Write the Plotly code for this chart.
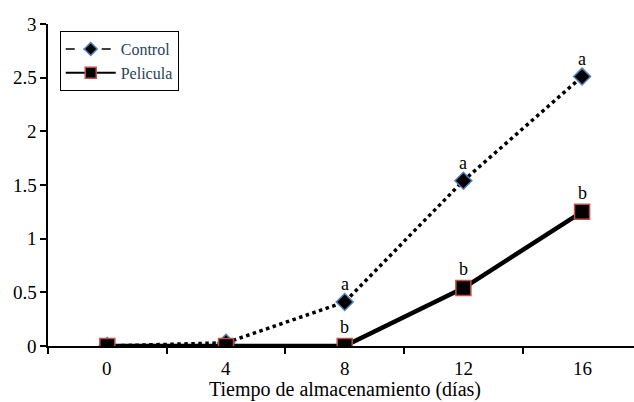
import plotly.graph_objects as go

days = [0, 4, 8, 12, 16]
day_labels = ["0", "4", "8", "12", "16"]
day_boundaries = [-2, 2, 6, 10, 14]
control = [0.0, 0.03, 0.41, 1.54, 2.51]
pelicula = [0.0, 0.0, 0.0, 0.54, 1.25]
control_letters = ["", "", "a", "a", "a"]
pelicula_letters = ["", "", "b", "b", "b"]
y_ticks = [0, 0.5, 1, 1.5, 2, 2.5, 3]
y_tick_labels = ["0", "0.5", "1", "1.5", "2", "2.5", "3"]
x_title = "Tiempo de almacenamiento (días)"

FONT = "Liberation Serif"
TXT = dict(family=FONT, size=19, color="black")

fig = go.Figure()
fig.add_trace(go.Scatter(
    x=days, y=control, name="Control", mode="lines+markers", showlegend=False,
    line=dict(color="black", width=3.5, dash="dot"),
    marker=dict(symbol="diamond", size=13, color="black",
                line=dict(color="#4f81bd", width=1.5)),
))
fig.add_trace(go.Scatter(
    x=days, y=pelicula, name="Pelicula", mode="lines+markers", showlegend=False,
    line=dict(color="black", width=4.5),
    marker=dict(symbol="square", size=15, color="black",
                line=dict(color="#c0504d", width=1.5)),
))
# legend entries (thinner sample lines, as in the reference)
fig.add_trace(go.Scatter(
    x=[None], y=[None], name="Control", mode="lines+markers",
    line=dict(color="black", width=1.5, dash="dash"),
    marker=dict(symbol="diamond", size=10, color="black",
                line=dict(color="#4f81bd", width=1.5)),
))
fig.add_trace(go.Scatter(
    x=[None], y=[None], name="Pelicula", mode="lines+markers",
    line=dict(color="black", width=2),
    marker=dict(symbol="square", size=11, color="black",
                line=dict(color="#c0504d", width=1.5)),
))

# significance letters
for d, v, t in zip(days, control, control_letters):
    if t:
        fig.add_annotation(x=d, y=v, text=t, showarrow=False, yshift=18,
                           font=dict(family=FONT, size=18, color="black"))
for d, v, t in zip(days, pelicula, pelicula_letters):
    if t:
        fig.add_annotation(x=d, y=v, text=t, showarrow=False, yshift=19,
                           font=dict(family=FONT, size=18, color="black"))

# tick labels drawn as text annotations (serif font rendered reliably)
for d, lab in zip(days, day_labels):
    fig.add_annotation(x=d, y=0, xref="x", yref="paper", text=lab, showarrow=False,
                       xanchor="center", yanchor="middle", yshift=-22, font=TXT)
for v, lab in zip(y_ticks, y_tick_labels):
    fig.add_annotation(x=0, y=v, xref="paper", yref="y", text=lab, showarrow=False,
                       xanchor="right", yanchor="middle", xshift=-9, font=TXT)

fig.add_annotation(x=0.507, y=-0.1366, xref="paper", yref="paper",
                   text=x_title, showarrow=False, xanchor="center", yanchor="middle",
                   font=dict(family=FONT, size=20, color="black"))

fig.update_layout(
    width=634, height=402,
    margin=dict(l=48, r=0, t=24, b=56),
    paper_bgcolor="white", plot_bgcolor="white",
    font=dict(family=FONT, size=19),
    showlegend=True,
    legend=dict(x=0.02, y=0.978, xanchor="left", yanchor="top",
                bordercolor="black", borderwidth=1, bgcolor="white",
                font=dict(family=FONT, size=16),
                itemwidth=50),
    xaxis=dict(
        range=[-2.0, 17.75], tickvals=days, showticklabels=False,
        ticks="", showline=True, linecolor="black", linewidth=1.5,
        showgrid=False, zeroline=False,
        minor=dict(tickvals=day_boundaries, ticks="outside", ticklen=6,
                   tickcolor="black", tickwidth=1.5, showgrid=False),
    ),
    yaxis=dict(
        range=[0, 3], tickvals=y_ticks, showticklabels=False,
        ticks="outside", ticklen=6, tickcolor="black", tickwidth=1.5,
        showline=True, linecolor="black", linewidth=1.5,
        showgrid=False, zeroline=False,
    ),
)

fig.write_html("out.html")
